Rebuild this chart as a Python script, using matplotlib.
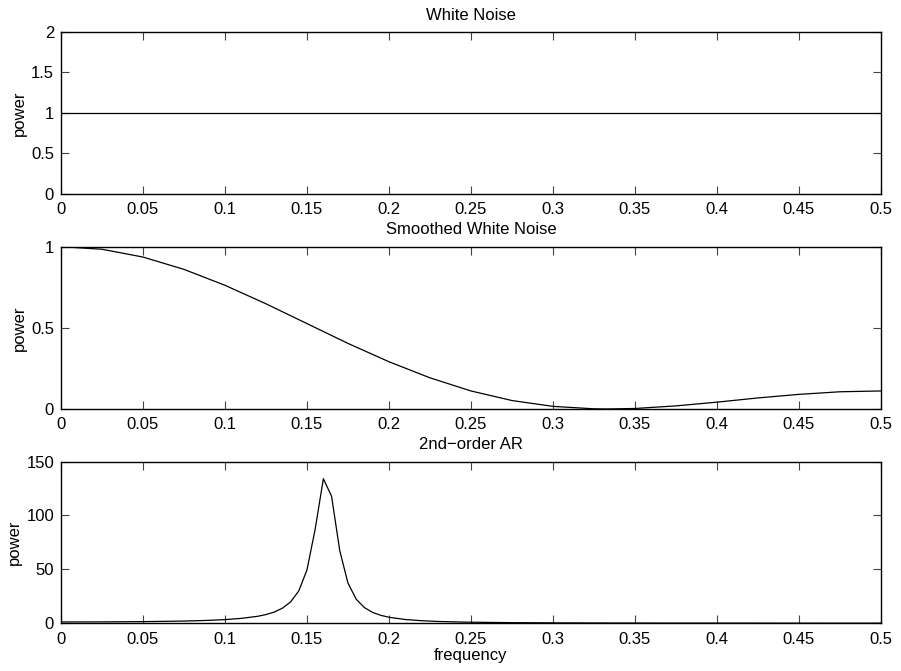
import numpy as np
import matplotlib
matplotlib.use("Agg")
import matplotlib.pyplot as plt

plt.rcParams["font.family"] = ["Liberation Sans", "DejaVu Sans"]
plt.rcParams["font.size"] = 12

# frequency tick labels shared by all panels
xticks = [0, 0.05, 0.1, 0.15, 0.2, 0.25, 0.3, 0.35, 0.4, 0.45, 0.5]
xticklabels = ["0", "0.05", "0.1", "0.15", "0.2", "0.25", "0.3", "0.35", "0.4", "0.45", "0.5"]

# white noise: flat spectrum
white_f = [0.0, 0.5]
white_p = [1.0, 1.0]

# smoothed white noise
smooth_f = [0.0, 0.025, 0.05, 0.075, 0.1, 0.125, 0.15, 0.175, 0.2, 0.225, 0.25,
            0.275, 0.3, 0.325, 0.333, 0.35, 0.375, 0.4, 0.425, 0.45, 0.475, 0.5]
smooth_p = [1.0, 0.984, 0.936, 0.860, 0.762, 0.648, 0.526, 0.404, 0.291, 0.192, 0.111,
            0.052, 0.016, 0.001, 0.0, 0.003, 0.019, 0.042, 0.068, 0.090, 0.106, 0.111]

# 2nd-order AR spectrum (peak near 0.16)
ar_f = [0.0, 0.025, 0.05, 0.075, 0.09, 0.1, 0.11, 0.12, 0.125, 0.13, 0.135, 0.14,
        0.145, 0.15, 0.155, 0.16, 0.165, 0.17, 0.175, 0.18, 0.185, 0.19, 0.195,
        0.2, 0.21, 0.22, 0.23, 0.24, 0.25, 0.275, 0.3, 0.325, 0.35, 0.375, 0.4,
        0.425, 0.45, 0.475, 0.5]
ar_p = [1.23, 1.30, 1.53, 2.07, 2.72, 3.42, 4.56, 6.5, 8.1, 10.4, 14.0, 19.8,
        30.0, 49.5, 87.3, 134.1, 117.8, 67.3, 37.3, 22.4, 14.6, 10.1, 7.4,
        5.6, 3.5, 2.4, 1.7, 1.3, 0.99, 0.59, 0.40, 0.29, 0.22, 0.18, 0.16,
        0.14, 0.13, 0.12, 0.12]

panels = [
    ("White Noise", white_f, white_p, (0, 2), [0, 0.5, 1, 1.5, 2], ["0", "0.5", "1", "1.5", "2"]),
    ("Smoothed White Noise", smooth_f, smooth_p, (0, 1), [0, 0.5, 1], ["0", "0.5", "1"]),
    ("2nd\u2212order AR", ar_f, ar_p, (0, 150), [0, 50, 100, 150], ["0", "50", "100", "150"]),
]

boxes = [
    [0.0677, 0.7113, 0.9100, 0.2410],
    [0.0677, 0.3905, 0.9100, 0.2419],
    [0.0677, 0.0711, 0.9100, 0.2410],
]

fig = plt.figure(figsize=(9.01, 6.71), dpi=100)

for box, (title, f, p, ylim, yt, ytl) in zip(boxes, panels):
    ax = fig.add_axes(box)
    ax.plot(f, p, color="black", linewidth=0.9)
    ax.set_xlim(0, 0.5)
    ax.set_ylim(*ylim)
    ax.set_xticks(xticks)
    ax.set_xticklabels(xticklabels)
    ax.set_yticks(yt)
    ax.set_yticklabels(ytl)
    ax.set_title(title, fontsize=12, pad=9)
    ax.set_ylabel("power", fontsize=12, labelpad=3)
    ax.tick_params(direction="in", top=True, right=True, length=6, width=0.8,
                   color="#444444", labelsize=12)
    ax.tick_params(axis="x", pad=6)
    ax.tick_params(axis="y", pad=5)
    for s in ax.spines.values():
        s.set_linewidth(1.0)

ax.set_xlabel("frequency", labelpad=1)

fig.savefig("out.png", dpi=100)
